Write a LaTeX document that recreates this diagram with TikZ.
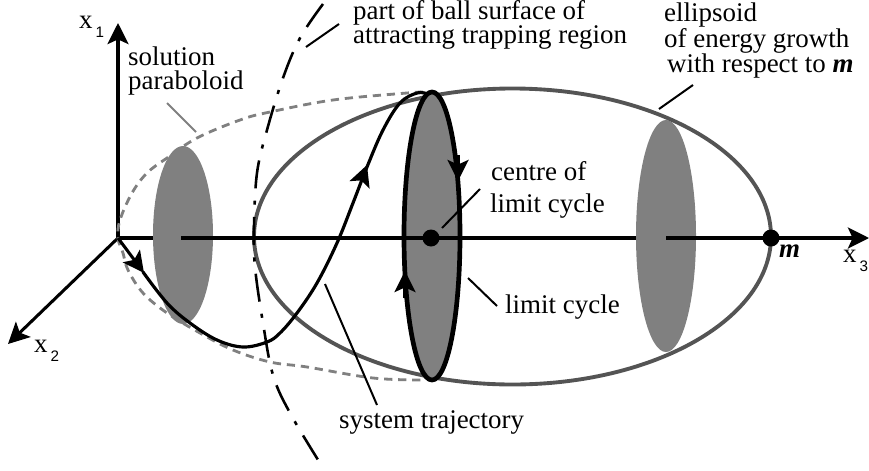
\documentclass[tikz,border=0pt]{standalone}
\usepackage{fontspec}
\setmainfont{Liberation Serif}
\newfontfamily\subfont{Liberation Sans}
\usepackage{tikz}
\usetikzlibrary{arrows.meta}
\definecolor{discgray}{gray}{0.5}
\definecolor{rimgray}{gray}{0.33}
\newcommand{\axname}[1]{x\hspace{2.5pt}\raisebox{-8pt}{\subfont\fontsize{13}{14}\selectfont #1}}

\begin{document}
\begin{tikzpicture}[x=0.03cm,y=-0.03cm,font=\fontsize{23}{25}\selectfont]
\tikzstyle{axisline} = [line width=2.6pt]
\tikzstyle{headline} = [-{Stealth[length=18pt,width=18pt,inset=4pt]}]
\tikzstyle{disc} = [fill=discgray,draw=none]
\tikzstyle{leader} = [line width=1.7pt]
\tikzstyle{caption} = [inner sep=0pt,anchor=base west]
\tikzstyle{flow} = [line width=2.7pt,line cap=round]
\tikzstyle{paraboloid} = [discgray,line width=2.4pt,dash pattern=on 7pt off 5pt]
\tikzstyle{ball} = [line width=2.2pt,dash pattern=on 24pt off 10.5pt on 3.5pt off 10.5pt]

\useasboundingbox (0,0) rectangle (869,470);

% axes and discs
\coordinate (orig) at (118,238);
\coordinate (x1end) at (118,23);
\coordinate (x2end) at (8,344);
\coordinate (x3end) at (869,238);
\coordinate (discleft) at (183,235);
\coordinate (discright) at (666,236);
\coordinate (cycle) at (432,236);
\coordinate (axleft) at (181,238);
\coordinate (axstop) at (636,238);
\coordinate (axright) at (666,238);
\coordinate (centre) at (431,238);
\coordinate (mpoint) at (771,238);

\draw [axisline] (orig) -- (axstop);
\draw [axisline,headline] (orig) -- (x1end);
\draw [axisline,headline] (orig) -- (x2end);
\fill [disc] (discleft) ellipse [x radius=30,y radius=89];
\fill [disc] (discright) ellipse [x radius=30,y radius=116];

% surfaces
\draw [rimgray,line width=3.3pt] (512.5,236.5) ellipse [x radius=258.5,y radius=148];
\draw [paraboloid] plot [smooth,tension=0.6] coordinates {(423,92) (407,93) (333,100) (270,112) (240,120) (197,138) (167,158) (147,173) (132,193) (120,220) (118,238) (123,253) (128,270) (143,293) (167,313) (200,333) (233,350) (270,362) (307,367) (373,378) (423,380)};

% trajectory
\draw [flow] plot [smooth,tension=0.6] coordinates {(143,272) (167,303) (190,323) (217,340) (243,347) (267,342) (280,333) (297,313) (317,283) (337,243) (353,203) (367,167) (383,130) (400,103) (417,93) (428,94)};
\coordinate (trajhead) at (367,165);
\coordinate (trajbase) at (361,181);
\coordinate (firsthead) at (144,273);
\draw [axisline,headline] (orig) -- (firsthead);
\draw [axisline,headline] (trajbase) -- (trajhead);

% limit cycle
\draw [fill=discgray,line width=4pt] (cycle) ellipse [x radius=28,y radius=144];
\coordinate (downbase) at (458,155);
\coordinate (downhead) at (458,181);
\coordinate (upbase) at (405,298);
\coordinate (uphead) at (405,271);
\draw [axisline,headline] (downbase) -- (downhead);
\draw [axisline,headline] (upbase) -- (uphead);

\draw [axisline] (axleft) -- (axstop);
\draw [axisline,headline] (axright) -- (x3end);
\fill (centre) circle [radius=8.5];
\fill (mpoint) circle [radius=8.5];

% ball surface
\draw [ball] plot [smooth,tension=0.6] coordinates {(323,4) (300,38) (283,78) (267,130) (257,173) (254,227) (255,267) (263,323) (273,375) (290,413) (320,463)};

% leaders
\coordinate (ballone) at (339,24);
\coordinate (balltwo) at (306,47);
\coordinate (paraone) at (167,103);
\coordinate (paratwo) at (196,132);
\coordinate (centreone) at (480,189);
\coordinate (centretwo) at (442,228);
\coordinate (cycleone) at (468,278);
\coordinate (cycletwo) at (497,306);
\coordinate (ellone) at (693,85);
\coordinate (elltwo) at (659,109);
\coordinate (trajone) at (325,284);
\coordinate (trajtwo) at (377,405);
\draw [leader] (ballone) -- (balltwo);
\draw [leader,discgray] (paraone) -- (paratwo);
\draw [leader] (centreone) -- (centretwo);
\draw [leader] (cycleone) -- (cycletwo);
\draw [leader] (ellone) -- (elltwo);
\draw [leader] (trajone) -- (trajtwo);

% texts
\node (xone) [caption] at (79,28) {\axname{1}};
\node (xtwo) [caption] at (34,352) {\axname{2}};
\node (xthree) [caption] at (843,262) {\axname{3}};
\node (mlabel) [caption] at (779,257) {\textbf{\textit{m}}};
\node (solution) [caption] at (128,65) {solution};
\node (parab) [caption] at (128,89) {paraboloid};
\node (partball) [caption] at (353,19) {part of ball surface of};
\node (attract) [caption] at (353,43) {attracting trapping region};
\node (ellipsoid) [caption] at (664,21) {ellipsoid};
\node (energy) [caption] at (664,47) {of energy growth};
\node (respect) [caption] at (667,72) {with respect to \textbf{\textit{m}}};
\node (centreof) [caption] at (491,180) {centre of};
\node (limitof) [caption] at (490,212) {limit cycle};
\node (limit) [caption] at (505,313) {limit cycle};
\node (system) [caption] at (339,428) {system trajectory};
\end{tikzpicture}
\end{document}
